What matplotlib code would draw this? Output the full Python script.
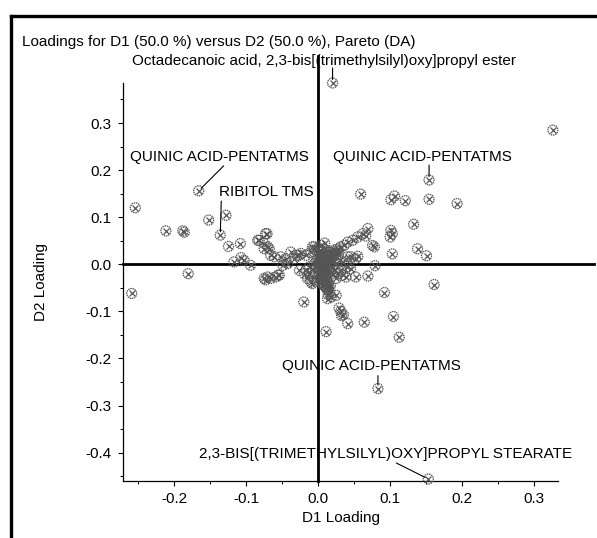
import matplotlib
matplotlib.use("Agg")
import matplotlib.pyplot as plt
from matplotlib.lines import Line2D
from matplotlib.ticker import MultipleLocator

plt.rcParams['font.family'] = ['Liberation Sans', 'DejaVu Sans']

# ---------------- data ----------------
d1_loading = [
    0.020, 0.326, -0.166, -0.136, 0.154, 0.083, 0.153,
    -0.254, -0.259, -0.2115, -0.188, -0.186, -0.1805, -0.152, -0.128, -0.1245,
    -0.108, -0.117, -0.107, -0.094, -0.084, -0.071, -0.075, -0.068, -0.066,
    -0.056, -0.059, -0.073, -0.066, -0.061, -0.052, -0.045, -0.0425, -0.049,
    -0.033, -0.029, -0.024, -0.017, -0.010, -0.0056, -0.019, -0.015, -0.0125,
    -0.010, -0.0056, -0.020,
    0.059, 0.106, 0.101, 0.121, 0.154, 0.193, 0.1325, 0.069, 0.062, 0.055,
    0.048, 0.041, 0.036, 0.0315, 0.027, 0.022, 0.018, 0.101, 0.100, 0.103,
    0.066, 0.0755, 0.078, 0.103, 0.045, 0.052, 0.055, 0.079, 0.052, 0.0385,
    0.034, 0.027, 0.069, 0.092, 0.1045, 0.013, 0.018, 0.025, 0.015, 0.011,
    0.029, 0.0315, 0.035, 0.0325, 0.041, 0.064, 0.1125, 0.011, 0.138, 0.1505,
    0.161, -0.073, -0.075, -0.082, -0.103, -0.070, -0.038, -0.026, -0.008,
    -0.075, -0.070, -0.054, -0.017, -0.001, 0.004, 0.008, 0.041, 0.022,
    -0.026, -0.008,
    0.000, 0.003, 0.005, 0.008, 0.010, 0.012, 0.006, 0.002, -0.002, 0.004,
    0.008, 0.012, 0.015, 0.018, 0.000, 0.003, 0.006, 0.009, 0.002, 0.005,
    0.008, 0.010, 0.012, 0.014, 0.007, 0.011, 0.013, 0.016, -0.003, -0.005,
    0.015, 0.020, 0.025, 0.022, 0.028, 0.030, 0.035, 0.040, 0.045, 0.032,
    0.020, 0.025, -0.008, -0.012, 0.001, 0.004, 0.009,
    0.004, 0.007, 0.010, 0.013, 0.016, 0.019, 0.006, 0.009, 0.012, 0.015,
    0.003, 0.006, 0.009, 0.012, 0.005, 0.008, 0.011, 0.014, 0.017, 0.010,
    0.013, 0.016, 0.019, 0.021, 0.024, 0.027, 0.001, -0.001, 0.002, 0.014,
]
d2_loading = [
    0.385, 0.285, 0.156, 0.062, 0.179, -0.264, -0.456,
    0.120, -0.062, 0.071, 0.071, 0.068, -0.020, 0.094, 0.104, 0.038,
    0.044, 0.005, 0.014, -0.002, 0.051, 0.065, 0.033, 0.033, 0.019,
    -0.023, -0.027, -0.033, -0.030, 0.016, 0.016, 0.012, 0.0015, -0.002,
    0.012, 0.019, 0.023, 0.019, 0.026, 0.037, -0.020, -0.030, -0.020,
    -0.038, -0.027, -0.080,
    0.149, 0.145, 0.137, 0.135, 0.138, 0.129, 0.085, 0.076, 0.065, 0.058,
    0.051, 0.047, 0.040, 0.037, 0.033, 0.030, 0.026, 0.072, 0.058, 0.065,
    0.060, 0.040, 0.037, 0.022, 0.016, 0.012, 0.017, -0.003, -0.027, -0.027,
    -0.023, -0.020, -0.025, -0.060, -0.111, -0.073, -0.070, -0.066, -0.048, -0.041,
    -0.093, -0.100, -0.107, -0.109, -0.126, -0.123, -0.155, -0.143, 0.033, 0.018,
    -0.043, 0.065, 0.044, 0.051, 0.0085, 0.037, 0.026, 0.019, 0.037,
    -0.030, -0.027, -0.023, -0.013, -0.034, -0.027, -0.034, 0.016, -0.013,
    -0.013, -0.041,
    0.035, 0.030, 0.025, 0.022, 0.018, 0.015, 0.012, 0.010, 0.008, 0.005,
    0.003, 0.006, 0.010, 0.012, 0.000, -0.004, -0.008, -0.012, -0.015, -0.020,
    -0.025, -0.030, -0.035, -0.040, -0.045, -0.050, -0.055, -0.060, -0.005, 0.002,
    -0.015, -0.005, 0.000, 0.018, 0.022, 0.010, 0.005, -0.005, -0.010, -0.012,
    -0.020, -0.030, -0.010, -0.005, 0.020, 0.040, 0.045,
    0.020, 0.016, 0.012, 0.009, 0.006, 0.004, -0.002, -0.006, -0.010, -0.018,
    -0.010, -0.018, -0.026, -0.032, -0.038, -0.044, -0.048, -0.052, -0.045, 0.025,
    0.028, 0.025, 0.022, 0.020, 0.024, 0.028, 0.028, 0.015, -0.020, -0.065,
]

label_texts = ["Octadecanoic acid, 2,3-bis[(trimethylsilyl)oxy]propyl ester",
               "QUINIC ACID-PENTATMS", "RIBITOL TMS", "QUINIC ACID-PENTATMS",
               "QUINIC ACID-PENTATMS", "2,3-BIS[(TRIMETHYLSILYL)OXY]PROPYL STEARATE"]
label_index = [0, 2, 3, 4, 5, 6]
# text offsets (pixels, left/center anchor) and leader start offsets (pixels)
text_offsets = [(-201, 22), (-69, 34), (-1, 43), (-96, 23), (-96, 23), (-229, 25)]
leader_offsets = [(0, 15), (25, 25), (1, 34), (0, 15), (0, 13), (-32, 16)]

x_ticks = [-0.2, -0.1, 0.0, 0.1, 0.2, 0.3]
y_ticks = [0.3, 0.2, 0.1, 0.0, -0.1, -0.2, -0.3, -0.4]

# ---------------- figure ----------------
W, H = 597, 538
fig = plt.figure(figsize=(W / 100, H / 100), dpi=100)
ax_l, ax_r, ax_t, ax_b = 122.7, 558.3, 83.0, 480.7
ax = fig.add_axes([ax_l / W, 1 - ax_b / H, (ax_r - ax_l) / W, (ax_b - ax_t) / H])

ax.set_xlim(-0.2715, 0.3335)
ax.set_ylim(-0.4596, 0.385)

fs = 11
grey = '#555555'
ax.scatter(d1_loading, d2_loading, s=52, facecolors='none', edgecolors=grey,
           linewidths=0.9, linestyles=(0, (1.2, 0.6)), zorder=3, clip_on=False)
ax.scatter(d1_loading, d2_loading, s=18, marker='x', c=grey, linewidths=0.9, zorder=3,
           clip_on=False)

# zero lines
ax.axhline(0, xmin=0, xmax=(594 - ax_l) / (ax_r - ax_l), color='black', lw=2.0,
           clip_on=False, zorder=2)
ax.axvline(0, ymin=0, ymax=(ax_b - 56) / (ax_b - ax_t), color='black', lw=2.0,
           clip_on=False, zorder=2)

for txt, idx, (tdx, tdy), (ldx, ldy) in zip(label_texts, label_index, text_offsets, leader_offsets):
    px, py = d1_loading[idx], d2_loading[idx]
    ax.annotate(txt, xy=(px, py), xytext=(tdx, tdy), textcoords='offset pixels',
                ha='left', va='center', fontsize=fs, annotation_clip=False, zorder=5)
    ax.annotate('', xy=(px, py), xytext=(ldx, ldy), textcoords='offset pixels',
                annotation_clip=False,
                arrowprops=dict(arrowstyle='-', lw=0.8, color='black',
                                shrinkA=0, shrinkB=2.5))

for side in ['top', 'right']:
    ax.spines[side].set_visible(False)
for side in ['left', 'bottom']:
    ax.spines[side].set_linewidth(0.9)

ax.set_xticks(x_ticks)
ax.set_yticks(y_ticks)
ax.set_xticklabels([f"{v:.1f}" for v in x_ticks])
ax.set_yticklabels([f"{v:.1f}" for v in y_ticks])
ax.xaxis.set_minor_locator(MultipleLocator(0.05))
ax.yaxis.set_minor_locator(MultipleLocator(0.05))
ax.tick_params(which='major', direction='out', length=3.5, width=0.8, labelsize=fs, pad=4.5)
ax.tick_params(which='minor', direction='out', length=2, width=0.7)

ax.set_xlabel("D1 Loading", fontsize=fs)
ax.set_ylabel("D2 Loading", fontsize=fs)
ax.xaxis.set_label_coords((340.5 - ax_l) / (ax_r - ax_l), -(518 - ax_b) / (ax_b - ax_t))
ax.xaxis.label.set_va('center')
ax.yaxis.set_label_coords(-(ax_l - 41) / (ax_r - ax_l), 0.5)
ax.yaxis.label.set_va('center')

fig.text(21.5 / W, 1 - 41.7 / H, "Loadings for D1 (50.0 %) versus D2 (50.0 %), Pareto (DA)",
         ha='left', va='center', fontsize=fs)

# outer frame (left and top border)
fx, fy = 11 / W, 1 - 16 / H
fig.add_artist(Line2D([fx, fx], [0, fy], color='black', lw=2.4, transform=fig.transFigure,
                      solid_capstyle='projecting'))
fig.add_artist(Line2D([fx, 1], [fy, fy], color='black', lw=2.4, transform=fig.transFigure,
                      solid_capstyle='projecting'))

fig.savefig("out.png", dpi=100)
